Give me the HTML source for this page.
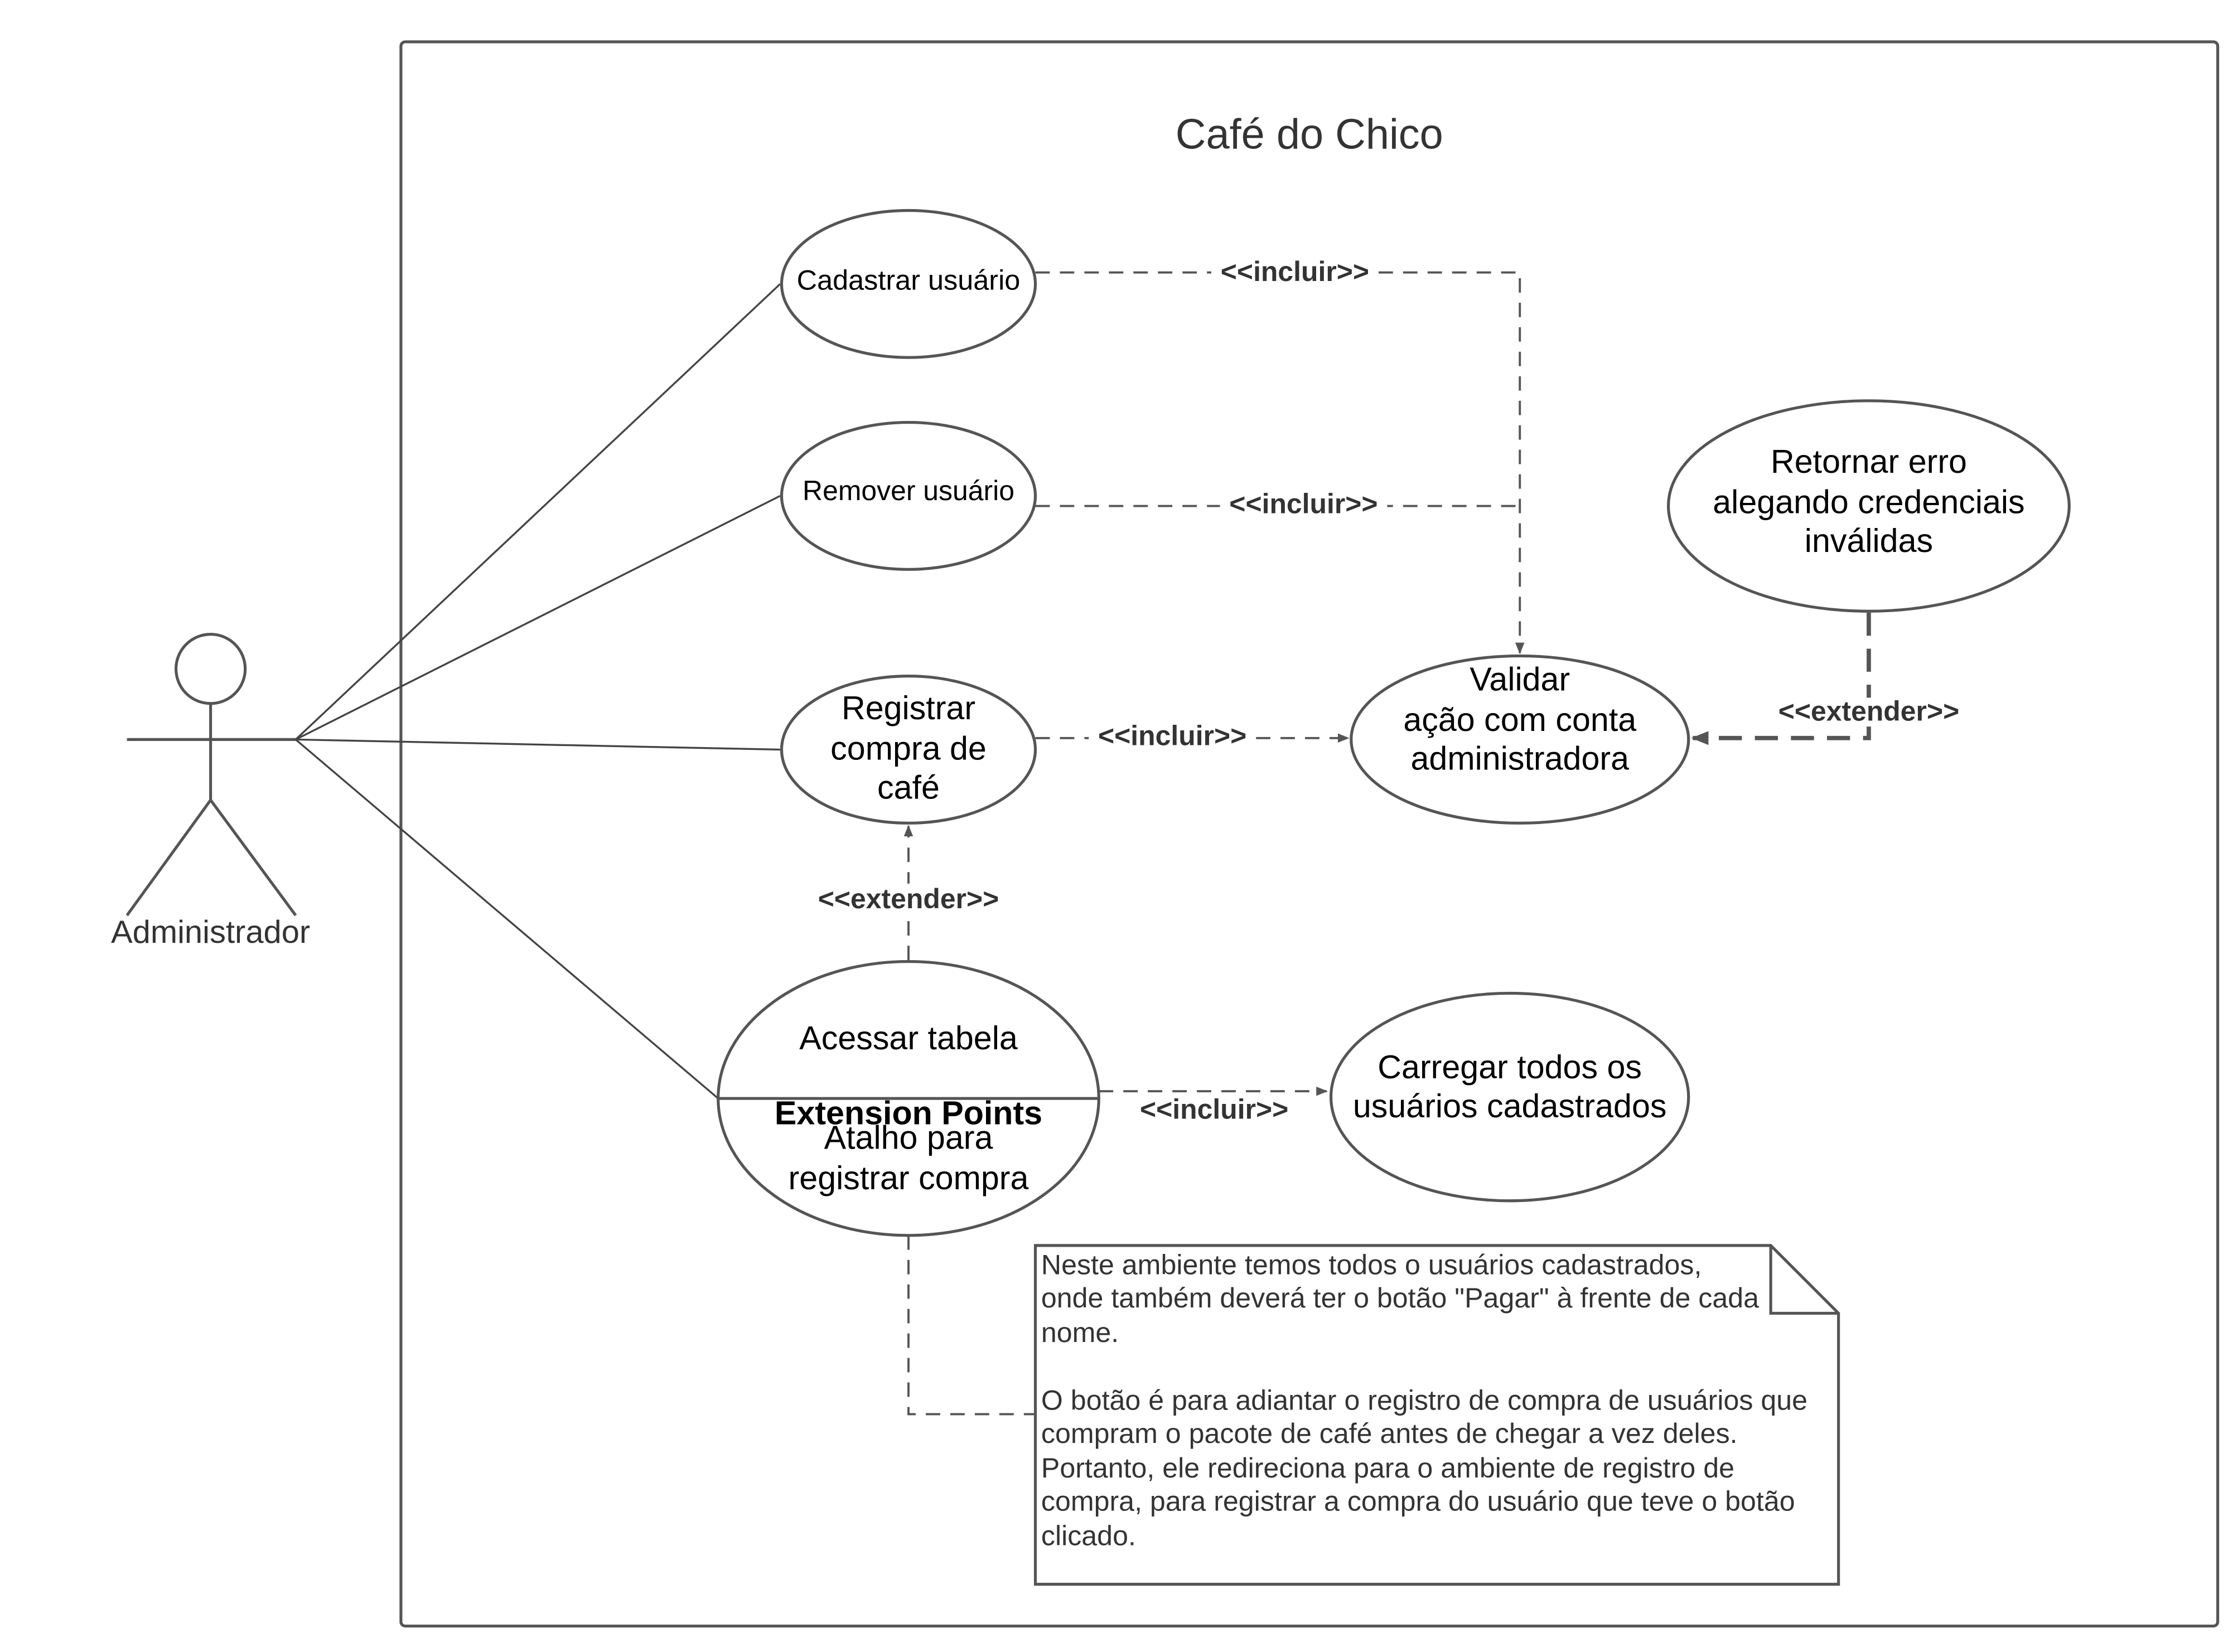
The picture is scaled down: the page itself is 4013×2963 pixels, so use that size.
<!DOCTYPE html>
<html><head><meta charset="utf-8"><style>html,body{margin:0;padding:0;background:#fff}svg{display:block}</style></head>
<body>
<svg xmlns="http://www.w3.org/2000/svg" width="4013" height="2963" viewBox="0 0 1552 1146" font-family="Liberation Sans, sans-serif">
<defs>
<marker id="a" viewBox="0 0 10 10" refX="9" refY="5" markerWidth="8" markerHeight="8" orient="auto" markerUnits="userSpaceOnUse"><path d="M0,1 L10,5 L0,9 z" fill="#555"/></marker>
<marker id="b" viewBox="0 0 10 10" refX="9" refY="5" markerWidth="12" markerHeight="12" orient="auto" markerUnits="userSpaceOnUse"><path d="M0,1 L10,5 L0,9 z" fill="#555"/></marker>
</defs>
<rect width="1552" height="1146" fill="#fff"/>
<rect x="278" y="29" width="1260" height="1099" rx="3" fill="none" stroke="#555" stroke-width="2"/>
<text x="908" y="103" font-size="29.3" fill="#333" text-anchor="middle">Café do Chico</text>
<g stroke="#555" stroke-width="2" fill="none">
<circle cx="146" cy="464" r="24"/>
<line x1="146" y1="488" x2="146" y2="555"/>
<line x1="88" y1="513" x2="205" y2="513"/>
<line x1="146" y1="555" x2="88" y2="635"/>
<line x1="146" y1="555" x2="205" y2="635"/>
</g>
<text x="146" y="654" font-size="22.4" fill="#333" text-anchor="middle">Administrador</text>
<g stroke="#444" stroke-width="1.3">
<line x1="205" y1="513" x2="541" y2="197"/>
<line x1="205" y1="513" x2="541" y2="344"/>
<line x1="205" y1="513" x2="541" y2="520"/>
<line x1="205" y1="513" x2="498" y2="762"/>
</g>
<g stroke="#555" stroke-width="2" fill="#fff">
<ellipse cx="630" cy="197" rx="88" ry="51"/>
<ellipse cx="630" cy="344" rx="88" ry="51"/>
<ellipse cx="630" cy="520" rx="88" ry="51"/>
<ellipse cx="630" cy="762" rx="132" ry="95"/>
<ellipse cx="1054" cy="513" rx="117" ry="58"/>
<ellipse cx="1296" cy="351" rx="139" ry="73"/>
<ellipse cx="1047" cy="761" rx="124" ry="72"/>
</g>
<line x1="498" y1="762" x2="762" y2="762" stroke="#555" stroke-width="2"/>
<g fill="#000" text-anchor="middle" font-size="22.9">
<text x="630" y="201" font-size="19.5">Cadastrar usuário</text>
<text x="630" y="347" font-size="19.3">Remover usuário</text>
<text x="630" y="499">Registrar</text>
<text x="630" y="527">compra de</text>
<text x="630" y="554">café</text>
<text x="630" y="728">Acessar tabela</text>
<text x="630" y="780" font-weight="bold">Extension Points</text>
<text x="630" y="797">Atalho para</text>
<text x="630" y="825">registrar compra</text>
<text x="1054" y="479">Validar</text>
<text x="1054" y="507">ação com conta</text>
<text x="1054" y="534">administradora</text>
<text x="1296" y="328">Retornar erro</text>
<text x="1296" y="356">alegando credenciais</text>
<text x="1296" y="383">inválidas</text>
<text x="1047" y="748">Carregar todos os</text>
<text x="1047" y="775">usuários cadastrados</text>
</g>
<g stroke="#555" stroke-width="1.5" fill="none" stroke-dasharray="10,7">
<path d="M718,189 H1054 V453" marker-end="url(#a)"/>
<path d="M718,351 H1054"/>
<path d="M718,512 H935" marker-end="url(#a)"/>
<path d="M630,666 V573" marker-end="url(#a)"/>
<path d="M762,757 H920" marker-end="url(#a)"/>
<path d="M630,857 V981 H718"/>
</g>
<path d="M1296,425 V512 H1174" stroke="#555" stroke-width="3" fill="none" stroke-dasharray="16,9" marker-end="url(#b)"/>
<g font-size="19.3" font-weight="bold" fill="#333" text-anchor="middle">
<rect x="840" y="178" width="116" height="20" fill="#fff"/>
<text x="898" y="195">&lt;&lt;incluir&gt;&gt;</text>
<rect x="846" y="339" width="116" height="20" fill="#fff"/>
<text x="904" y="356">&lt;&lt;incluir&gt;&gt;</text>
<rect x="755" y="500" width="116" height="20" fill="#fff"/>
<text x="813" y="517">&lt;&lt;incluir&gt;&gt;</text>
<rect x="1228" y="484" width="136" height="20" fill="#fff"/>
<text x="1296" y="500">&lt;&lt;extender&gt;&gt;</text>
<rect x="562" y="613" width="136" height="20" fill="#fff"/>
<text x="630" y="630">&lt;&lt;extender&gt;&gt;</text>
<text x="842" y="776">&lt;&lt;incluir&gt;&gt;</text>
</g>
<path d="M718,864 H1228 L1275,911 V1099 H718 Z" fill="#fff" stroke="#555" stroke-width="2"/>
<path d="M1228,864 V911 H1275" fill="none" stroke="#555" stroke-width="2"/>
<g font-size="19.4" fill="#333">
<text x="722" y="884">Neste ambiente temos todos o usuários cadastrados,</text>
<text x="722" y="907">onde também deverá ter o botão "Pagar" à frente de cada</text>
<text x="722" y="931">nome.</text>
<text x="722" y="978">O botão é para adiantar o registro de compra de usuários que</text>
<text x="722" y="1001">compram o pacote de café antes de chegar a vez deles.</text>
<text x="722" y="1025">Portanto, ele redireciona para o ambiente de registro de</text>
<text x="722" y="1048">compra, para registrar a compra do usuário que teve o botão</text>
<text x="722" y="1072">clicado.</text>
</g>
</svg>
</body></html>
